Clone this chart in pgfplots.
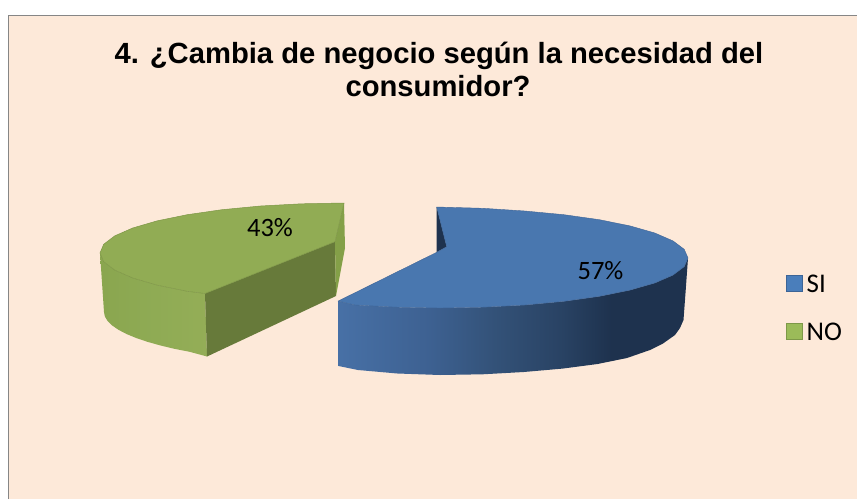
\documentclass[border=0pt]{standalone}
\usepackage{pgfplots}
\pgfplotsset{compat=1.18}
\usepackage{fontspec}
\setmainfont{Carlito}
\newfontfamily\titlefont{Liberation Sans}
\definecolor{bgc}{RGB}{253,233,217}
\definecolor{frame}{RGB}{134,134,134}
\definecolor{bluetop}{RGB}{73,119,175}
\definecolor{bluedark}{RGB}{30,50,78}
\definecolor{greentop}{RGB}{145,172,84}
\definecolor{greendark}{RGB}{103,122,58}
\definecolor{greenfacet}{RGB}{132,160,72}
\definecolor{legblue}{RGB}{74,126,187}
\definecolor{leggreen}{RGB}{155,187,89}
\pgfdeclarehorizontalshading{bside}{100bp}{rgb(0bp)=(0.28,0.44,0.65);rgb(25bp)=(0.28,0.44,0.65);rgb(38bp)=(0.24,0.38,0.57);rgb(47.5bp)=(0.20,0.32,0.47);rgb(57bp)=(0.16,0.26,0.39);rgb(64bp)=(0.117,0.196,0.306);rgb(100bp)=(0.117,0.196,0.306)}
\pgfdeclarehorizontalshading{gside}{100bp}{rgb(0bp)=(0.54,0.65,0.31);rgb(25bp)=(0.54,0.65,0.31);rgb(50bp)=(0.56,0.67,0.33);rgb(75bp)=(0.58,0.68,0.34);rgb(100bp)=(0.58,0.68,0.34)}
\begin{document}
\begin{tikzpicture}
\begin{axis}[scale only axis,width=857pt,height=499pt,xmin=0,xmax=857,ymin=0,ymax=499,y dir=reverse,hide axis,clip=true]
% page
\addplot[fill=white,draw=none] coordinates {(0,0)(857,0)(857,499)(0,499)} --cycle;
% panel
\addplot[fill=bgc,draw=none] coordinates {(8.5,15.5)(857,15.5)(857,499)(8.5,499)} --cycle;
\addplot[draw=frame,line width=1.5pt] coordinates {(8.5,499)(8.5,15.5)(857,15.5)};
% green side (outer)
\addplot[shade,shading=gside,draw=none] coordinates {(100,253)(103.7,261.7)(114.7,270.1)(132.7,278)(157,285.1)(187.2,291.3)(205,293.5)(207,356.5)(189.7,351.8)(174.3,348.8)(160.2,345.4)(147.4,341.8)(136.2,338)(126.5,334)(118.5,329.8)(112.2,325.5)(107.6,321)(104.9,316.5)(104,312)} --cycle;
% green radial faces
\addplot[fill=greendark,draw=none] coordinates {(205,293.5)(335,241.7)(336,296)(207,356.5)} --cycle;
\addplot[fill=greenfacet,draw=none] coordinates {(344,203)(345,248)(336,296)(335,241.7)} --cycle;
% green top
\addplot[fill=greentop,draw={rgb,255:red,125;green,150;blue,70},line width=0.5pt] coordinates {(344,203)(301.6,203.8)(260.5,206)(222,209.7)(187.2,214.7)(157,220.9)(132.7,228)(114.7,235.9)(103.7,244.3)(100,253)(103.7,261.7)(114.7,270.1)(132.7,278)(157,285.1)(187.2,291.3)(205,293.5)(335,241.7)} --cycle;
% blue inner notch
\addplot[fill=bluedark,draw=none] coordinates {(436.7,207)(446.7,246.7)(436.7,252.3)} --cycle;
% blue side
\addplot[shade,shading=bside,draw=none] coordinates {(338.3,301)(355,305)(397,307.2)(440,308)(483,307.2)(524.8,305)(564,301.3)(599.4,296.3)(630,290.1)(654.8,283)(673,275.1)(684.2,266.7)(688,258)(685.5,293)(683.5,320)(680,328)(675,335)(663,343.5)(650,350)(627,358)(597.5,364)(562.5,368.6)(523.8,372)(482.6,374.3)(440,375)(397.4,373.5)(358,370)(338.5,366)} --cycle;
% blue top
\addplot[fill=bluetop,draw={rgb,255:red,62;green,100;blue,150},line width=0.4pt] coordinates {(436.7,207)(483,208.3)(524.8,211)(564,214.7)(599.4,219.7)(630,225.9)(654.8,233)(673,240.9)(684.2,249.3)(688,258)(684.2,266.7)(673,275.1)(654.8,283)(630,290.1)(599.4,296.3)(564,301.3)(524.8,305)(483,307.2)(440,308)(397,307.2)(355,305)(338.3,301)(436.7,252.3)(446.7,246.7)} --cycle;
% legend keys
\addplot[fill=legblue,draw={rgb,255:red,60;green,100;blue,150},line width=1pt] coordinates {(786.5,275.5)(802,275.5)(802,291.5)(786.5,291.5)} --cycle;
\addplot[fill=leggreen,draw={rgb,255:red,125;green,152;blue,72},line width=1pt] coordinates {(786.5,323.5)(802,323.5)(802,339.5)(786.5,339.5)} --cycle;
% text
\node[anchor=base,font=\titlefont\bfseries\fontsize{29.2}{30}\selectfont,inner sep=0pt] at (axis cs:439,63.5) {4. ¿Cambia de negocio según la necesidad del};
\node[anchor=base,font=\titlefont\bfseries\fontsize{29.2}{30}\selectfont,inner sep=0pt] at (axis cs:438,96) {consumidor?};
\node[anchor=base,font=\fontsize{26.5}{28}\selectfont,inner sep=0pt] at (axis cs:270,236) {43\%};
\node[anchor=base,font=\fontsize{26.5}{28}\selectfont,inner sep=0pt] at (axis cs:600.5,279) {57\%};
\node[anchor=base west,font=\fontsize{27}{28}\selectfont,inner sep=0pt] at (axis cs:806.5,292) {SI};
\node[anchor=base west,font=\fontsize{27}{28}\selectfont,inner sep=0pt] at (axis cs:806.5,340) {NO};
\end{axis}
\end{tikzpicture}
\end{document}
